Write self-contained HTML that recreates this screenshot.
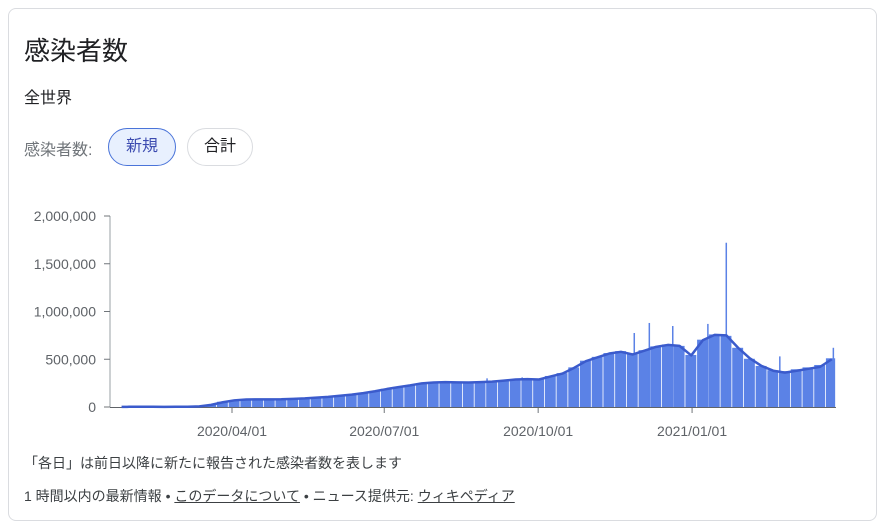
<!DOCTYPE html>
<html><head><meta charset="utf-8">
<style>
body{margin:0;background:#fff;width:887px;height:529px;overflow:hidden;font-family:"Liberation Sans","Noto Sans CJK JP",sans-serif;}
.card{position:absolute;left:8px;top:8px;width:869px;height:513px;border:1px solid #dadce0;border-radius:8px;box-sizing:border-box;}
.t{position:absolute;white-space:nowrap;}
.chip{position:absolute;height:38px;border-radius:19px;box-sizing:border-box;font-size:16px;line-height:36px;text-align:center;}
</style></head><body>
<div class="card"></div>
<div class="t" style="left:24px;top:31px;font-size:26px;color:#202124;">感染者数</div>
<div class="t" style="left:24px;top:84px;font-size:16px;color:#202124;">全世界</div>
<div class="t" style="left:24px;top:136px;font-size:16px;color:#70757a;">感染者数:</div>
<div class="chip" style="left:108px;top:128px;width:68px;background:#e8f0fe;border:1px solid #4a74d9;color:#3c4bb0;">新規</div>
<div class="chip" style="left:187px;top:128px;width:66px;border:1px solid #dadce0;color:#202124;">合計</div>
<svg id="chart" style="position:absolute;left:0;top:0" width="887" height="529"></svg>
<div class="t" style="left:24px;top:453px;font-size:14px;color:#3c4043;">「各日」は前日以降に新たに報告された感染者数を表します</div>
<div class="t" style="left:24px;top:486px;font-size:14px;color:#3c4043;">1 時間以内の最新情報 • <span style="text-decoration:underline">このデータについて</span> • ニュース提供元: <span style="text-decoration:underline">ウィキペディア</span></div>
<script>
// weekly new cases (thousands), weeks starting 2020-01-20
const weekBars=[1,2,3,3,1,2,3,8,25,55,72,80,80,80,82,86,92,100,108,120,132,148,168,190,210,228,250,258,262,260,258,262,268,278,290,295,290,325,355,415,485,525,565,585,555,595,635,655,640,545,705,760,745,620,505,430,385,375,395,415,440,510];
const avgLine=[1,2,3,3,1,2,3,7,22,50,70,78,80,80,81,85,90,98,106,118,130,145,165,188,208,226,248,256,260,258,256,260,266,276,288,292,288,320,350,410,480,520,560,578,550,590,630,650,640,540,700,755,750,620,510,430,380,360,380,400,420,500];
const spikeDays=[24,224,245,289,305,312,321,335,356,367,399,431];
const spikeVals=[15,300,310,500,520,775,880,848,870,1720,530,620];
const yTicks=[0,500000,1000000,1500000,2000000];
const yTickLabels=["0","500,000","1,000,000","1,500,000","2,000,000"];
const xTickDays=[72,163,255,347];
const xTickLabels=["2020/04/01","2020/07/01","2020/10/01","2021/01/01"];
const svg=document.getElementById('chart');
const NS='http://www.w3.org/2000/svg';
const x=d=>232+(d-72)*1.673;
const y=v=>407-v/2000000*191;
function mk(tag,attrs){const e=document.createElementNS(NS,tag);for(const k in attrs)e.setAttribute(k,attrs[k]);svg.appendChild(e);return e;}
const axis=mk('line',{x1:110,y1:216,x2:110,y2:407,stroke:'#9aa0a6','stroke-width':1});


yTicks.forEach((v,i)=>{
  const tk=mk('line',{x1:104,x2:110,y1:y(v),y2:y(v),stroke:'#70757a'});
  
  
  const t=mk('text',{x:96,y:y(v)+5,'text-anchor':'end','font-size':14,fill:'#5f6368','font-family':'Liberation Sans, sans-serif'});
  t.textContent=yTickLabels[i];
  
  
});
const end=433;
weekBars.forEach((v,i)=>{
  const d0=Math.max(i*7,6), d1=Math.min(i*7+7,end);
  if(d1<=d0)return;
  const r=mk('rect',{x:x(d0),y:y(v*1000),width:Math.max(x(d1)-x(d0)-0.8,0.5),height:407-y(v*1000),fill:'#5b82e6'});
  
  
});
spikeDays.forEach((d,i)=>{
  const r=mk('rect',{x:x(d),y:y(spikeVals[i]*1000),width:1.5,height:407-y(spikeVals[i]*1000),fill:'#5b82e6'});
  
  
});
const base=mk('line',{x1:110,x2:836,y1:407.5,y2:407.5,stroke:'#5f6368'});


let pts=avgLine.map((v,i)=>x(Math.min(Math.max(i*7+3.5,6),end))+','+y(v*1000)).join(' ');
const pl=mk('polyline',{points:pts,fill:'none',stroke:'#3b5bcc','stroke-width':2.5,'stroke-linejoin':'round'});


xTickDays.forEach((d,i)=>{
  const tk=mk('line',{x1:x(d),x2:x(d),y1:408,y2:413,stroke:'#70757a'});
  
  
  const t=mk('text',{x:x(d),y:436,'text-anchor':'middle','font-size':14,fill:'#5f6368','font-family':'Liberation Sans, sans-serif'});
  t.textContent=xTickLabels[i];
  
  
});
</script>
</body></html>
